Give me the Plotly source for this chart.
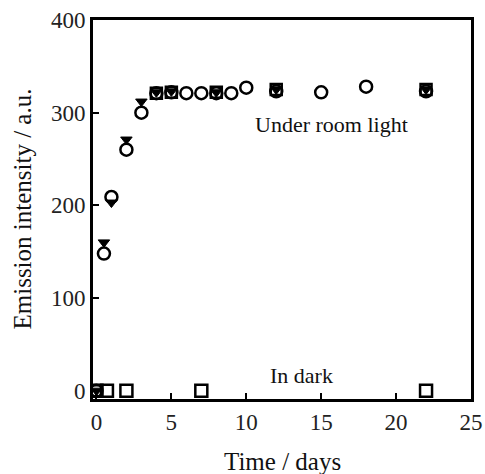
import plotly.graph_objects as go

# Under room light
circle_days = [0, 0.5, 1, 2, 3, 4, 5, 6, 7, 8, 9, 10, 12, 15, 18, 22]
circle_vals = [0, 148, 209, 260, 300, 321, 322, 321, 321, 321, 321, 327, 323, 322, 328, 323]

tri_days = [0, 0.5, 1, 2, 3, 4, 5, 8, 12, 22]
tri_vals = [0, 160, 203, 271, 312, 322, 323, 322, 325, 325]

sq_light_days = [0, 4, 5, 8, 12, 22]
sq_light_vals = [0, 321, 322, 322, 325, 325]

# In dark
dark_days = [0, 0.7, 2, 7, 22]
dark_vals = [0, 0, 0, 0, 0]

x_ticks = [0, 5, 10, 15, 20, 25]
y_ticks = [0, 100, 200, 300, 400]

FONT = "Liberation Serif"

fig = go.Figure()
fig.add_trace(go.Scatter(x=circle_days, y=circle_vals, mode="markers",
                         marker=dict(symbol="circle-open", size=12, color="black",
                                     line=dict(width=2.5))))
fig.add_trace(go.Scatter(x=sq_light_days, y=sq_light_vals, mode="markers",
                         marker=dict(symbol="square-open", size=11, color="black",
                                     line=dict(width=2.5))))
fig.add_trace(go.Scatter(x=tri_days, y=tri_vals, mode="markers",
                         marker=dict(symbol="triangle-down", size=10, color="black",
                                     line=dict(width=1, color="black"))))
fig.add_trace(go.Scatter(x=dark_days, y=dark_vals, mode="markers",
                         marker=dict(symbol="square-open", size=12, color="black",
                                     line=dict(width=2.5))))

fig.add_annotation(x=15.7, y=287, text="Under room light", showarrow=False,
                   font=dict(family=FONT, size=22, color="#111"))
fig.add_annotation(x=13.7, y=16, text="In dark", showarrow=False,
                   font=dict(family=FONT, size=22, color="#111"))

# axis titles
fig.add_annotation(xref="paper", yref="paper", x=0.5, y=0, yshift=-62,
                   xanchor="center", yanchor="middle", showarrow=False,
                   text="Time / days", font=dict(family=FONT, size=25, color="#111"))
fig.add_annotation(xref="paper", yref="paper", x=0, y=0.5, xshift=-71,
                   xanchor="center", yanchor="middle", showarrow=False, textangle=-90,
                   text="Emission intensity / a.u.", font=dict(family=FONT, size=25, color="#111"))

fig.update_layout(
    width=485, height=474,
    margin=dict(l=93, r=14, t=20, b=75),
    paper_bgcolor="white", plot_bgcolor="white",
    showlegend=False,
    font=dict(family=FONT, color="black"),
)
fig.update_xaxes(range=[-0.23, 25], tickvals=x_ticks, ticktext=[str(v) for v in x_ticks],
                 ticks="inside", ticklen=6, tickwidth=2, tickcolor="black",
                 showline=True, linewidth=3, linecolor="black", mirror=True,
                 showgrid=False, zeroline=False, automargin=False,
                 tickfont=dict(family=FONT, size=23, color="#222"))
fig.update_yaxes(range=[-9, 400], tickvals=y_ticks, ticktext=[str(v) for v in y_ticks],
                 ticks="inside", ticklen=6, tickwidth=2, tickcolor="black",
                 showline=True, linewidth=3, linecolor="black", mirror=True,
                 showgrid=False, zeroline=False, automargin=False,
                 tickfont=dict(family=FONT, size=23, color="#222"))

fig.write_html("out.html")
